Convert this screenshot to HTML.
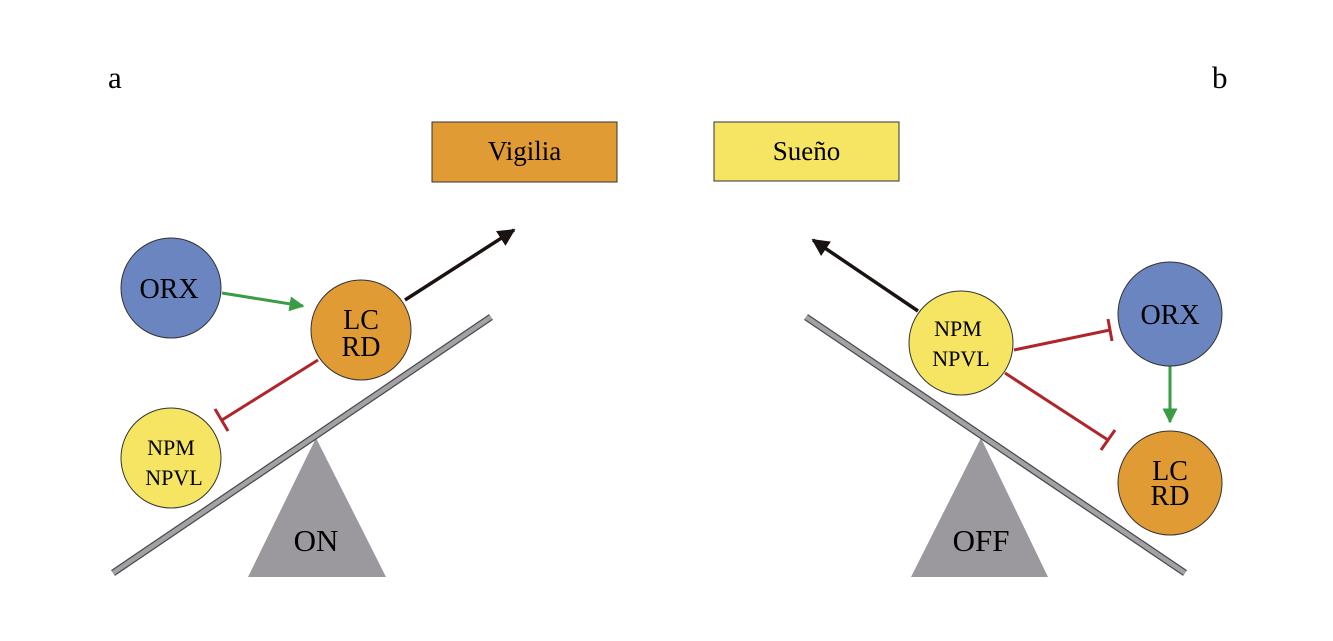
<!DOCTYPE html>
<html><head><style>body{margin:0;background:#fff}</style></head><body>
<svg width="1333" height="636" viewBox="0 0 1333 636" xmlns="http://www.w3.org/2000/svg" font-family="Liberation Serif, serif">
<defs>
<marker id="ab" viewBox="0 0 10 10" refX="9" refY="5" markerWidth="5" markerHeight="5" orient="auto"><path d="M0,0L10,5L0,10z" fill="#1a1311"/></marker>
<marker id="ag" viewBox="0 0 10 10" refX="9" refY="5" markerWidth="5" markerHeight="5" orient="auto"><path d="M0,0L10,5L0,10z" fill="#3a9c45"/></marker>
</defs>
<text x="108" y="88" font-size="31">a</text>
<text x="1212" y="88" font-size="31">b</text>
<rect x="432" y="122" width="185" height="60" fill="#e09b35" stroke="#333" stroke-width="1"/>
<text x="524.5" y="160" font-size="27" text-anchor="middle">Vigilia</text>
<rect x="714" y="122" width="185" height="59" fill="#f5e562" stroke="#333" stroke-width="1"/>
<text x="806.5" y="160" font-size="27" text-anchor="middle">Sueño</text>
<!-- left -->
<polygon points="316,438 248,577 386,577" fill="#9b999d"/>
<line x1="113" y1="573" x2="491" y2="317" stroke="#4a4a4a" stroke-width="7"/>
<line x1="113" y1="573" x2="491" y2="317" stroke="#a3a1a5" stroke-width="4.5"/>
<text x="316" y="551" font-size="31" text-anchor="middle">ON</text>
<line x1="405" y1="300" x2="514" y2="230" stroke="#1a1311" stroke-width="3.5" marker-end="url(#ab)"/>
<line x1="222" y1="293" x2="303" y2="306" stroke="#3a9c45" stroke-width="3" marker-end="url(#ag)"/>
<line x1="318" y1="360" x2="222" y2="420" stroke="#b0252a" stroke-width="3"/>
<line x1="215" y1="409" x2="228" y2="431" stroke="#b0252a" stroke-width="3"/>
<circle cx="171" cy="288" r="50" fill="#6a85bf" stroke="#333" stroke-width="1"/>
<text x="169" y="298" font-size="28" text-anchor="middle">ORX</text>
<circle cx="361" cy="330" r="50" fill="#e09b35" stroke="#333" stroke-width="1"/>
<text x="361" y="329" font-size="28" text-anchor="middle">LC</text>
<text x="361" y="356" font-size="28" text-anchor="middle">RD</text>
<circle cx="171" cy="458" r="50" fill="#f5e562" stroke="#333" stroke-width="1"/>
<text x="171" y="455" font-size="22" text-anchor="middle">NPM</text>
<text x="174" y="485" font-size="22" text-anchor="middle">NPVL</text>
<!-- right -->
<polygon points="981,438 911,577 1048,577" fill="#9b999d"/>
<line x1="806" y1="317" x2="1185" y2="573" stroke="#4a4a4a" stroke-width="7"/>
<line x1="806" y1="317" x2="1185" y2="573" stroke="#a3a1a5" stroke-width="4.5"/>
<text x="981" y="551" font-size="31" text-anchor="middle">OFF</text>
<line x1="918" y1="311" x2="813" y2="240" stroke="#1a1311" stroke-width="3.5" marker-end="url(#ab)"/>
<line x1="1014" y1="350" x2="1110" y2="330" stroke="#b0252a" stroke-width="3"/>
<line x1="1108" y1="319" x2="1112" y2="341" stroke="#b0252a" stroke-width="3"/>
<line x1="1005" y1="373" x2="1108" y2="440" stroke="#b0252a" stroke-width="3"/>
<line x1="1101" y1="450" x2="1115" y2="430" stroke="#b0252a" stroke-width="3"/>
<line x1="1170" y1="366" x2="1170" y2="422" stroke="#3a9c45" stroke-width="3" marker-end="url(#ag)"/>
<circle cx="961" cy="343" r="52" fill="#f5e562" stroke="#333" stroke-width="1"/>
<text x="958" y="336" font-size="22" text-anchor="middle">NPM</text>
<text x="961" y="366" font-size="22" text-anchor="middle">NPVL</text>
<circle cx="1170" cy="314" r="52" fill="#6a85bf" stroke="#333" stroke-width="1"/>
<text x="1170" y="324" font-size="28" text-anchor="middle">ORX</text>
<circle cx="1170" cy="483" r="52" fill="#e09b35" stroke="#333" stroke-width="1"/>
<text x="1170" y="480" font-size="28" text-anchor="middle">LC</text>
<text x="1170" y="505" font-size="28" text-anchor="middle">RD</text>
</svg>
</body></html>
